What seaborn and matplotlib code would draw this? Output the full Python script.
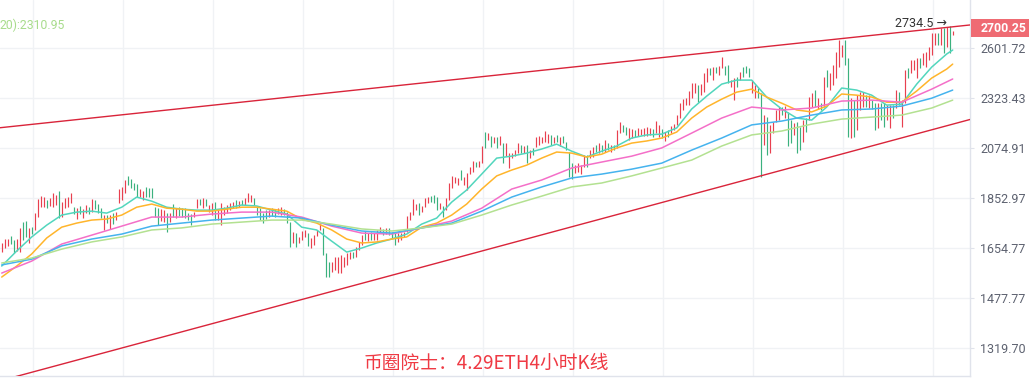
import numpy as np
import pandas as pd
import matplotlib
matplotlib.use("Agg")
import matplotlib.pyplot as plt
from matplotlib.ticker import NullLocator
from matplotlib.transforms import blended_transform_factory
import seaborn as sns

# ---------------------------------------------------------------------------
# DATA  (4h ETH candles)
# ---------------------------------------------------------------------------
opens = [
    1639, 1654, 1662, 1699, 1684, 1643, 1639, 1754, 1758, 1673,
    1734, 1723, 1774, 1814, 1814, 1843, 1819, 1814, 1823, 1882,
    1774, 1810, 1814, 1831, 1814, 1766, 1819, 1770, 1790, 1814,
    1794, 1843, 1827, 1810, 1723, 1782, 1727, 1790, 1762, 1831,
    1843, 1873, 1947, 1933, 1916, 1912, 1856, 1843, 1899, 1894,
    1894, 1814, 1810, 1758, 1754, 1790, 1754, 1827, 1770, 1814,
    1810, 1810, 1790, 1786, 1774, 1810, 1848, 1810, 1848, 1794,
    1782, 1835, 1762, 1742, 1782, 1790, 1802, 1810, 1843, 1814,
    1843, 1823, 1835, 1835, 1852, 1814, 1810, 1790, 1802, 1774,
    1810, 1806, 1786, 1782, 1806, 1794, 1754, 1673, 1711, 1673,
    1684, 1696, 1711, 1654, 1665, 1699, 1723, 1731, 1635, 1602,
    1567, 1574, 1563, 1563, 1585, 1592, 1613, 1639, 1621, 1646,
    1665, 1719, 1680, 1715, 1684, 1684, 1711, 1727, 1707, 1731,
    1715, 1715, 1677, 1684, 1696, 1715, 1762, 1782, 1802, 1831,
    1794, 1814, 1831, 1860, 1865, 1856, 1806, 1819, 1802, 1843,
    1894, 1916, 1907, 1973, 1907, 1886, 1955, 1964, 2009, 1986,
    2004, 2150, 2111, 2131, 2097, 2126, 2088, 2097, 2036, 1982,
    2027, 2036, 2050, 2088, 2050, 2088, 2027, 2074, 2078, 2088,
    2097, 2102, 2097, 2136, 2097, 2136, 2083, 2131, 2102, 2055,
    2004, 1960, 1964, 1955, 1986, 2041, 2027, 2032, 2088, 2050,
    2088, 2055, 2097, 2055, 2088, 2074, 2145, 2185, 2175, 2111,
    2121, 2160, 2131, 2136, 2131, 2131, 2136, 2165, 2145, 2126,
    2165, 2107, 2160, 2145, 2160, 2185, 2219, 2260, 2285, 2285,
    2321, 2348, 2391, 2337, 2353, 2407, 2485, 2418, 2490, 2446,
    2485, 2496, 2502, 2380, 2311, 2435, 2418, 2490, 2496, 2485,
    2348, 2321, 2375, 2348, 2088, 2224, 2050, 2145, 2199, 2209,
    2275, 2219, 2250, 2209, 2136, 2199, 2175, 2102, 2219, 2209,
    2275, 2364, 2265, 2295, 2275, 2474, 2364, 2391, 2429, 2490,
    2547, 2647, 2541, 2121, 2311, 2160, 2260, 2275, 2337, 2270,
    2311, 2295, 2170, 2295, 2295, 2209, 2170, 2285, 2270, 2353,
    2175, 2295, 2485, 2457, 2474, 2429, 2541, 2502, 2490, 2530,
    2559, 2617, 2690, 2617, 2720, 2606, 2734.5, 2678,
]
closes = [
    1673, 1688, 1688, 1669, 1635, 1688, 1731, 1684, 1696, 1731,
    1707, 1790, 1848, 1860, 1856, 1810, 1852, 1873, 1865, 1770,
    1835, 1852, 1856, 1873, 1786, 1810, 1786, 1806, 1823, 1786,
    1848, 1806, 1790, 1770, 1782, 1750, 1782, 1746, 1794, 1890,
    1899, 1929, 1907, 1894, 1886, 1856, 1890, 1882, 1856, 1856,
    1852, 1774, 1742, 1806, 1802, 1715, 1790, 1774, 1810, 1778,
    1774, 1770, 1762, 1742, 1794, 1848, 1823, 1852, 1819, 1823,
    1831, 1762, 1802, 1831, 1814, 1823, 1831, 1835, 1810, 1839,
    1823, 1852, 1873, 1865, 1823, 1782, 1762, 1750, 1766, 1802,
    1778, 1774, 1810, 1814, 1782, 1750, 1658, 1715, 1658, 1696,
    1719, 1723, 1662, 1692, 1703, 1723, 1750, 1628, 1549, 1549,
    1602, 1621, 1621, 1628, 1621, 1635, 1639, 1617, 1658, 1677,
    1703, 1684, 1711, 1684, 1711, 1723, 1734, 1703, 1731, 1703,
    1692, 1665, 1711, 1711, 1715, 1778, 1794, 1848, 1827, 1782,
    1819, 1852, 1856, 1835, 1831, 1802, 1831, 1774, 1852, 1916,
    1947, 1942, 1938, 1929, 1942, 1960, 1986, 2013, 1986, 2013,
    2083, 2074, 2145, 2078, 2126, 2074, 2131, 2004, 2097, 2050,
    2050, 2064, 2097, 2050, 2083, 2004, 2064, 2041, 2126, 2131,
    2126, 2155, 2140, 2088, 2126, 2102, 2126, 2097, 2064, 1942,
    1933, 1995, 2004, 1995, 2041, 1986, 2064, 2078, 2055, 2097,
    2055, 2111, 2064, 2088, 2064, 2160, 2199, 2150, 2136, 2170,
    2165, 2126, 2170, 2165, 2170, 2175, 2170, 2126, 2204, 2185,
    2121, 2150, 2126, 2180, 2189, 2234, 2295, 2316, 2321, 2359,
    2402, 2402, 2300, 2396, 2457, 2485, 2446, 2490, 2457, 2496,
    2547, 2446, 2402, 2418, 2429, 2380, 2463, 2435, 2457, 2435,
    2418, 2391, 2321, 1942, 2234, 2041, 2185, 2199, 2260, 2275,
    2234, 2280, 2083, 2097, 2194, 2050, 2064, 2209, 2150, 2327,
    2348, 2275, 2321, 2260, 2435, 2380, 2457, 2502, 2576, 2647,
    2617, 2502, 2126, 2321, 2126, 2337, 2353, 2353, 2275, 2337,
    2265, 2160, 2295, 2209, 2175, 2285, 2285, 2219, 2364, 2285,
    2311, 2474, 2429, 2530, 2530, 2541, 2485, 2571, 2576, 2606,
    2690, 2690, 2617, 2720, 2571, 2726, 2571, 2700.25,
]

# moving averages, sampled every 5 / 10 candles
ma_fine_idx = list(range(0, 316, 5)) + [317]
ma_coarse_idx = list(range(0, 311, 10)) + [317]
ma_cyan = [1588, 1643, 1696, 1742, 1782, 1794, 1798, 1790, 1814, 1856, 1839, 1814, 1806,
           1802, 1802, 1810, 1823, 1819, 1802, 1786, 1734, 1723, 1680, 1639, 1654, 1673,
           1688, 1707, 1746, 1770, 1835, 1886, 1955, 2027, 2036, 2050, 2069, 2092, 2059,
           2032, 2059, 2083, 2121, 2136, 2140, 2170, 2265, 2332, 2396, 2418, 2418, 2327,
           2265, 2219, 2209, 2275, 2375, 2364, 2337, 2285, 2290, 2396, 2490, 2565, 2588]
ma_orange = [1549, 1588, 1632, 1692, 1734, 1750, 1762, 1766, 1782, 1814, 1827, 1810, 1806,
             1798, 1798, 1806, 1814, 1814, 1806, 1798, 1766, 1750, 1723, 1688, 1673, 1677,
             1688, 1696, 1734, 1750, 1782, 1827, 1890, 1947, 1973, 1995, 2027, 2055, 2050,
             2032, 2045, 2074, 2097, 2107, 2121, 2150, 2219, 2275, 2316, 2353, 2369, 2327,
             2295, 2260, 2250, 2280, 2343, 2337, 2327, 2300, 2300, 2359, 2429, 2479, 2507]
ma_pink = [1563, 1606, 1669, 1703, 1738, 1774, 1774, 1786, 1794, 1794, 1774, 1738, 1711,
           1707, 1731, 1758, 1810, 1890, 1929, 1982, 2009, 2036, 2074, 2145, 2219, 2275,
           2260, 2270, 2306, 2311, 2300, 2369, 2424]
ma_blue = [1592, 1613, 1662, 1688, 1707, 1738, 1750, 1762, 1770, 1778, 1770, 1742, 1719,
           1711, 1731, 1750, 1798, 1856, 1899, 1938, 1955, 1977, 2004, 2064, 2121, 2185,
           2204, 2234, 2260, 2265, 2280, 2321, 2364]
ma_green = [1599, 1617, 1650, 1677, 1696, 1723, 1731, 1746, 1754, 1762, 1762, 1746, 1727,
            1719, 1731, 1746, 1782, 1823, 1860, 1899, 1916, 1947, 1982, 2018, 2083, 2136,
            2155, 2189, 2214, 2224, 2234, 2270, 2310.95]

# trend channel anchors (candle index, price)
upper_idx = [-0.6, 322.8]
upper_px = [2171, 2739]
lower_idx = [-0.6, 322.8]
lower_px = [1225, 2212]

y_ticks = [1319.70, 1477.77, 1654.77, 1852.97, 2074.91, 2323.43, 2601.72]
caption = "币圈院士：4.29ETH4小时K线"

# ---------------------------------------------------------------------------
# STYLE
# ---------------------------------------------------------------------------
sns.set_style("white")
plt.rcParams["font.family"] = ["Roboto", "DejaVu Sans"]

UP = "#e8404f"
DOWN = "#3bb17e"
GRID = "#f0f2f5"
AXIS = "#e0e3eb"

candles = pd.DataFrame({"open": opens, "close": closes})
candles["idx"] = np.arange(len(candles))
candles["up"] = candles["close"] >= candles["open"]
candles["lo"] = candles[["open", "close"]].min(axis=1)
candles["hi"] = candles[["open", "close"]].max(axis=1)

fig = plt.figure(figsize=(10.29, 3.85), dpi=100)
ax = fig.add_axes([0, 9 / 385, 970 / 1029, 376 / 385])
ax.set_yscale("log")

# candles
for up, col in [(True, UP), (False, DOWN)]:
    d = candles[candles["up"] == up]
    ax.vlines(d["idx"], d["lo"], d["hi"], colors=col, linewidth=0.85, zorder=3)

# moving averages
ma_lines = [
    (ma_fine_idx, ma_cyan, "#52d6bd"),
    (ma_fine_idx, ma_orange, "#ffb52b"),
    (ma_coarse_idx, ma_pink, "#f46fc8"),
    (ma_coarse_idx, ma_blue, "#45b3ee"),
    (ma_coarse_idx, ma_green, "#b3e191"),
]
for xs, ys, col in ma_lines:
    sns.lineplot(x=xs, y=ys, color=col, linewidth=1.1, ax=ax, zorder=4)

# trend channel
ax.plot(upper_idx, upper_px, color="#d9243a", linewidth=1.0, zorder=5)
ax.plot(lower_idx, lower_px, color="#d9243a", linewidth=1.0, zorder=5)

ax.set_xlim(-0.57, 322.77)
ax.set_ylim(1238.5, 2898)

# axes / grid
ax.yaxis.tick_right()
ax.set_yticks(y_ticks)
ax.set_yticklabels([f"{v:.2f}" for v in y_ticks])
ax.yaxis.set_minor_locator(NullLocator())
ax.set_xticks(np.arange(10.5, 323, 30))
ax.set_xticklabels([])
ax.tick_params(axis="y", length=3, color=AXIS, pad=4.5, labelsize=9,
               labelcolor="#5d6270")
ax.tick_params(axis="x", length=6.5, color=GRID, width=1)
ax.grid(True, color=GRID, linewidth=1)
ax.set_axisbelow(True)
for s in ["top", "left"]:
    ax.spines[s].set_visible(False)
for s in ["right", "bottom"]:
    ax.spines[s].set_color(AXIS)
    ax.spines[s].set_linewidth(1)
ax.set_xlabel("")
ax.set_ylabel("")

# last price tag
trans = blended_transform_factory(ax.transAxes, ax.transData)
ax.annotate(f"{closes[-1]:.2f}", xy=(1.0113, closes[-1]), xycoords=trans,
            xytext=(0, 3), textcoords="offset pixels", ha="left", va="center",
            fontsize=8.8, fontweight="bold", color="white", annotation_clip=False,
            bbox=dict(boxstyle="square,pad=0.85", fc="#ef6b73", ec="none",
                      mutation_aspect=0.24))

# high marker
hi_i = int(np.argmax(opens))
ax.annotate(f"{max(opens):.1f} →", xy=(hi_i, max(opens)), xytext=(-3, 2),
            textcoords="offset pixels", ha="right", va="center",
            fontsize=9, color="#333333", zorder=6)

# legend fragment and caption
fig.text(0.0, 1 - 25 / 385, f"20):{ma_green[-1]:.2f}", ha="left", va="center",
         fontsize=8.8, color="#a8dc8c")
fig.text(486 / 1029, 1 - 363 / 385, caption, ha="center", va="center",
         fontsize=13.5, color="#ef3a44",
         family=["Noto Sans CJK SC", "DejaVu Sans"])

fig.savefig("out.png", dpi=100)
plt.close(fig)
